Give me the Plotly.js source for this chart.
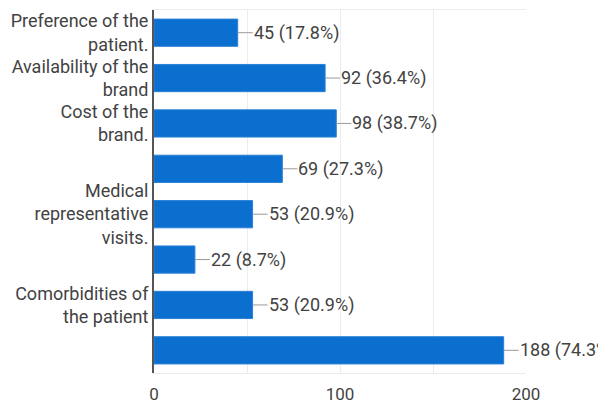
<!DOCTYPE html>
<html>
<head>
<meta charset="utf-8">
<script src="https://cdn.plot.ly/plotly-3.0.1.min.js"></script>
<style>html,body{margin:0;padding:0;background:#fff;}#chart{width:598px;height:403px;}</style>
</head>
<body>
<div id="chart"></div>
<script>
const categoryLabels = [
  "Preference of the<br>patient.",
  "Availability of the<br>brand",
  "Cost of the<br>brand.",
  "",
  "Medical<br>representative<br>visits.",
  "",
  "Comorbidities of<br>the patient",
  ""
];
const counts = [45, 92, 98, 69, 53, 22, 53, 188];
const percents = ["17.8", "36.4", "38.7", "27.3", "20.9", "8.7", "20.9", "74.3"];

const positions = categoryLabels.map((_, i) => i);
const textColor = "#424242";
const fontFamily = "Roboto, Arial, sans-serif";

const trace = {
  type: "bar",
  orientation: "h",
  x: counts,
  y: positions,
  width: 0.6,
  marker: { color: "#0b6fd0", line: { color: "#2a80d6", width: 1 } },
  hoverinfo: "none"
};

const annotations = counts.map((v, i) => ({
  x: v, y: i, xref: "x", yref: "y",
  text: v + " (" + percents[i] + "%)",
  showarrow: true, arrowhead: 0, arrowwidth: 1, arrowcolor: "#999",
  ax: 15, ay: 0, xanchor: "left", yanchor: "middle",
  font: { family: fontFamily, size: 18, color: textColor },
  borderpad: 0
}));

const layout = {
  width: 598, height: 403,
  margin: { l: 154, r: 72, t: 10, b: 30 },
  paper_bgcolor: "#fff", plot_bgcolor: "#fff",
  showlegend: false,
  font: { family: fontFamily, size: 18, color: textColor },
  xaxis: {
    range: [0, 200],
    tickvals: [0, 100, 200],
    ticks: "", showgrid: true, gridcolor: "#ececec", gridwidth: 1,
    minor: { dtick: 50, showgrid: true, gridcolor: "#ececec", gridwidth: 1 },
    zeroline: false,
    showline: true, mirror: true, linecolor: "#ececec", linewidth: 1,
    tickfont: { family: fontFamily, size: 17, color: textColor },
    ticklabelstandoff: 6,
    fixedrange: true
  },
  yaxis: {
    range: [7.5, -0.5],
    tickvals: positions,
    ticktext: categoryLabels,
    ticks: "", showgrid: false, zeroline: false,
    showline: true, linecolor: "#555", linewidth: 2,
    tickfont: { family: fontFamily, size: 18, color: textColor },
    ticklabelstandoff: 0,
    fixedrange: true
  },
  annotations: annotations
};

Plotly.newPlot("chart", [trace], layout, { staticPlot: true, displayModeBar: false });
</script>
</body>
</html>
